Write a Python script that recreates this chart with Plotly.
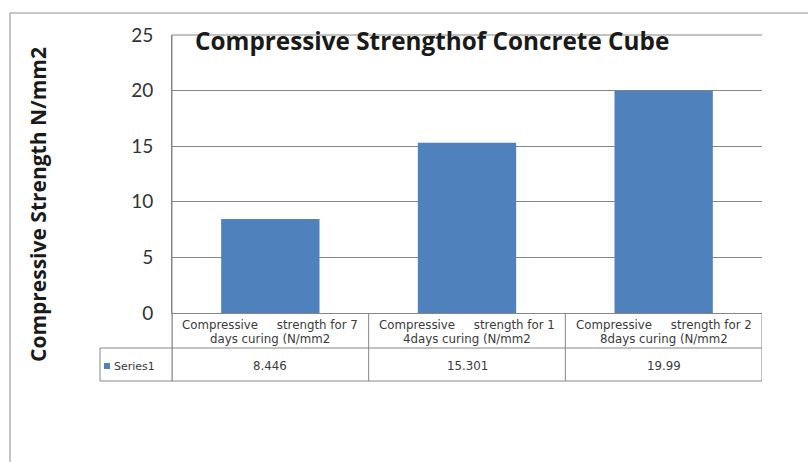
import plotly.graph_objects as go

# ---- data ----
categories = [
    "Compressive strength for 7days curing (N/mm2",
    "Compressive strength for 14days curing (N/mm2",
    "Compressive strength for 28days curing (N/mm2",
]
cat_line1 = ["Compressive     strength for 7", "Compressive     strength for 1", "Compressive     strength for 2"]
cat_line2 = ["days curing (N/mm2", "4days curing (N/mm2", "8days curing (N/mm2"]
values = [8.446, 15.301, 19.99]
value_labels = ["8.446", "15.301", "19.99"]
series_name = "Series1"
y_ticks = [0, 5, 10, 15, 20, 25]
chart_title = "Compressive Strengthof Concrete Cube"
y_title = "Compressive Strength N/mm2"

# ---- layout constants ----
W, H = 808, 462
L, R, T, B = 172, 762, 35, 313
PW, PH = R - L, B - T
BAR = "#4F81BD"
GRID = "#868686"
FONT = "Open Sans"

def px(x):
    return (x - L) / PW

def py(y):
    return (B - y) / PH

xs = list(range(len(categories)))

fig = go.Figure()
fig.add_trace(go.Bar(x=xs, y=values, width=0.5, marker=dict(color=BAR, line=dict(width=0)),
                     name=series_name, showlegend=False))

shapes = []
def line(x0, y0, x1, y1, xref="paper", yref="paper", color=GRID, layer="above"):
    shapes.append(dict(type="line", x0=x0, y0=y0, x1=x1, y1=y1, xref=xref, yref=yref,
                       line=dict(color=color, width=1), layer=layer))

# outer frame (left and top edges visible)
line(px(10), py(13), px(W + 5), py(13), color="#8c8c8c")
line(px(10), py(13), px(10), py(H + 5), color="#8c8c8c")

# top gridline (at 25)
line(0, 1, 1, 1, layer="below")

# table lines
row1_bot, row2_bot = 348, 381
line(px(L), py(T), px(L), py(row2_bot))
line(px(100), py(row1_bot), px(R), py(row1_bot))
line(px(100), py(row2_bot), px(R), py(row2_bot))
line(px(100), py(row1_bot), px(100), py(row2_bot))
for i in range(len(categories) + 1):
    line(i - 0.5, 0, i - 0.5, py(row2_bot), xref="x")

small = dict(family="DejaVu Sans", size=11.8, color="#3a3a3a")
annotations = []
for i, (a, b, v) in enumerate(zip(cat_line1, cat_line2, value_labels)):
    annotations.append(dict(x=i, y=py(325), xref="x", yref="paper", showarrow=False,
                            text=a.replace(" ", "\u00a0"), font=small,
                            xanchor="center", yanchor="middle"))
    annotations.append(dict(x=i, y=py(339), xref="x", yref="paper", showarrow=False,
                            text=b.replace(" ", "\u00a0"), font=small,
                            xanchor="center", yanchor="middle"))
    annotations.append(dict(x=i, y=py(366), xref="x", yref="paper", showarrow=False,
                            text=v, font=small,
                            xanchor="center", yanchor="middle"))

# legend key in table
shapes.append(dict(type="rect", x0=px(104), x1=px(110), y0=py(363), y1=py(369), xref="paper", yref="paper",
                   fillcolor=BAR, line=dict(width=0)))
annotations.append(dict(x=px(112), y=py(366), xref="paper", yref="paper", showarrow=False,
                        text=series_name, font=dict(family="DejaVu Sans", size=11, color="#3a3a3a"),
                        xanchor="left", yanchor="middle"))

# title
annotations.append(dict(x=px(432), y=py(40), xref="paper", yref="paper", showarrow=False,
                        text="<b>" + chart_title + "</b>", font=dict(family=FONT, size=24.3, color="#1a1a1a"),
                        xanchor="center", yanchor="middle"))
# y axis title
annotations.append(dict(x=px(38), y=py(205), xref="paper", yref="paper", showarrow=False,
                        text="<b>" + y_title + "</b>", textangle=-90,
                        font=dict(family=FONT, size=21, color="#1a1a1a"),
                        xanchor="center", yanchor="middle"))

fig.update_layout(
    width=W, height=H,
    margin=dict(l=L, r=W - R, t=T, b=H - B, pad=0),
    paper_bgcolor="white", plot_bgcolor="white",
    showlegend=False,
    shapes=shapes, annotations=annotations,
    xaxis=dict(range=[-0.5, len(categories) - 0.5], showticklabels=False, showgrid=False,
               zeroline=False, showline=True, linecolor=GRID, linewidth=1, ticks=""),
    yaxis=dict(range=[0, 25], tickvals=y_ticks, showgrid=True, gridcolor=GRID, gridwidth=1,
               zeroline=False, showline=True, linecolor=GRID, linewidth=1, ticks="",
               ticklabelstandoff=14, tickfont=dict(family="Lato", size=19, color="#333")),
)

fig.write_html("out.html")
